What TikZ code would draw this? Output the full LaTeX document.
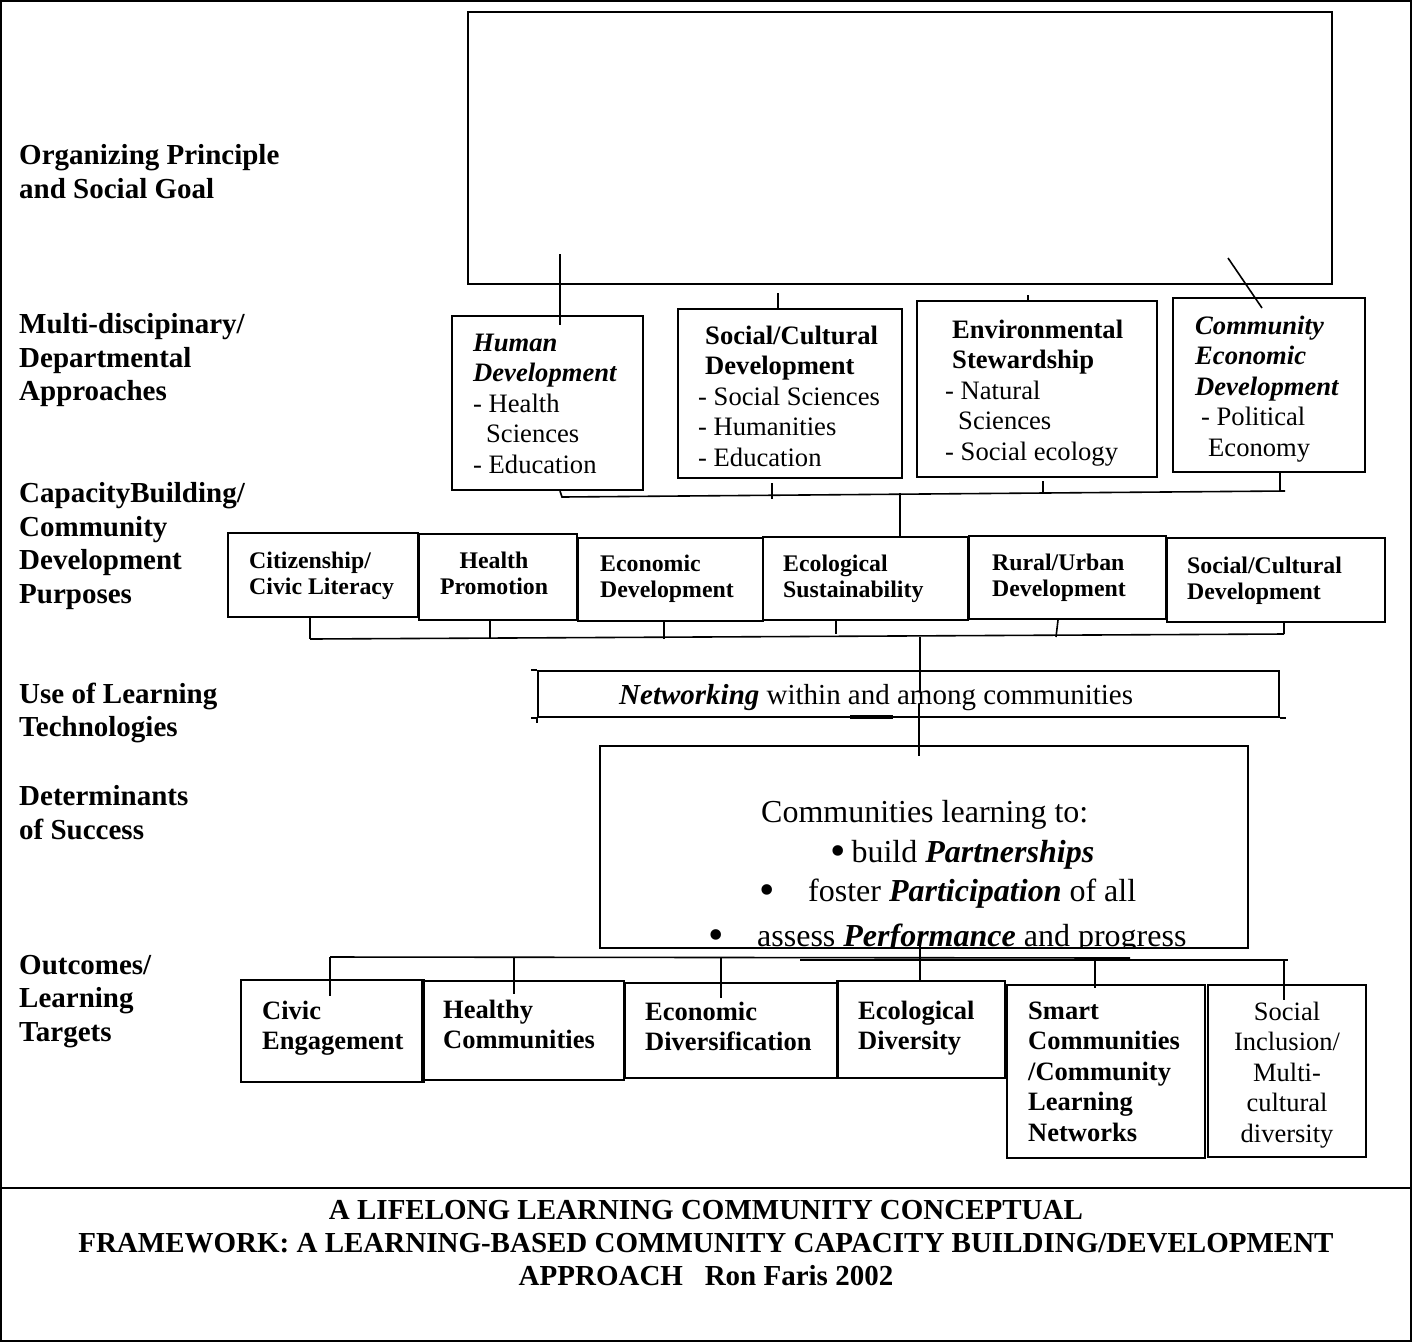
\documentclass[tikz,border=0pt]{standalone}
\usepackage{fontspec}
\setmainfont{Liberation Serif}
\usetikzlibrary{fit}
\newcommand\fsz[2]{\fontsize{#1}{#2}\selectfont}
\newcommand\bigbul{\raisebox{-3pt}{\fontsize{44}{44}\selectfont\textbullet}}
\begin{document}
\begin{tikzpicture}[x=1pt,y=-1pt,
 bx/.style={draw, line width=1.8pt, inner sep=0pt},
 con/.style={line width=1.6pt},
 lbl/.style={anchor=north west, align=left, inner sep=0pt, font=\fsz{29}{33.5}\bfseries},
 ta/.style={anchor=north west, align=left, inner sep=0pt, font=\fsz{26.6}{30.6}},
 tb/.style={anchor=north west, align=left, inner sep=0pt, font=\fsz{23.8}{26.5}\bfseries},
 tc/.style={anchor=north west, align=left, inner sep=0pt, font=\fsz{26.5}{30.5}\bfseries},
 dt/.style={anchor=base west, inner sep=0pt, font=\fsz{32}{39.5}},
]
\useasboundingbox (0,0) rectangle (1412,1342);
% frame
\draw[line width=2pt] (1,1) rectangle (1411,1341);
\draw[line width=2.4pt] (0,1188) -- (1412,1188);

% left labels
\node[lbl] (l1) at (19,144.6) {Organizing Principle\\and Social Goal};
\node[lbl] (l2) at (19,313.6) {Multi-discipinary/\\Departmental\\Approaches};
\node[lbl] (l3) at (19,482.6) {CapacityBuilding/\\Community\\Development\\Purposes};
\node[lbl] (l4) at (19,682.6) {Use of Learning\\Technologies};
\node[lbl] (l5) at (19,785.6) {Determinants\\of Success};
\node[lbl] (l6) at (19,954.6) {Outcomes/\\Learning\\Targets};

% top box
\node[bx, fit={(468,12)(1332,284)}] (goal) {};

% row 2
\node[bx, fit={(452,316)(643,490)}] (hd) {};
\node[bx, fit={(678,309)(902,478)}] (sc) {};
\node[bx, fit={(917,301)(1157,477)}] (es) {};
\node[bx, fit={(1173,298)(1365,472)}] (ce) {};
\node[ta] (hdt) at (473,333.4) {\textbf{\textit{Human}}\\\textbf{\textit{Development}}\\- Health\\\hspace*{13pt}Sciences\\- Education};
\node[ta] (sct) at (698,325.4) {\hspace*{7pt}\textbf{Social/Cultural}\\\hspace*{7pt}\textbf{Development}\\- Social Sciences\\- Humanities\\- Education};
\node[ta] (est) at (945,319.4) {\hspace*{7pt}\textbf{Environmental}\\\hspace*{7pt}\textbf{Stewardship}\\- Natural\\\hspace*{13pt}Sciences\\- Social ecology};
\node[ta] (cet) at (1195,315.4) {\textbf{\textit{Community}}\\\textbf{\textit{Economic}}\\\textbf{\textit{Development}}\\\hspace*{6pt}- Political\\\hspace*{13pt}Economy};

% row 3
\node[bx, fit={(228,533)(418,617)}] (p1) {};
\node[bx, fit={(419,534)(577,620)}] (p2) {};
\node[bx, fit={(578,538)(763,621)}] (p3) {};
\node[bx, fit={(763,537)(968,620)}] (p4) {};
\node[bx, fit={(969,536)(1166,619)}] (p5) {};
\node[bx, fit={(1167,538)(1385,622)}] (p6) {};
\node[tb] (p1t) at (249,551.4) {Citizenship/\\Civic Literacy};
\node[tb, anchor=north, align=center] (p2t) at (494,551.4) {Health\\Promotion};
\node[tb] (p3t) at (600,554.4) {Economic\\Development};
\node[tb] (p4t) at (783,554.4) {Ecological\\Sustainability};
\node[tb] (p5t) at (992,553.4) {Rural/Urban\\Development};
\node[tb] (p6t) at (1187,556.4) {Social/Cultural\\Development};

% networking
\node[bx, fit={(538,671)(1279,717)}] (net) {};
\node[anchor=base west, inner sep=0pt, font=\fsz{29}{33}] (nett) at (619,704) {\textbf{\textit{Networking}} within and among communities};

% determinants
\node[bx, fit={(600,746)(1248,948)}] (det) {};
\begin{scope}
\clip (det.north west) rectangle (det.south east);
\node[dt] (d1) at (761,822.5) {Communities learning to:};
\node[dt] (d2) at (830.3,862) {\bigbul\hspace{5.6pt}build \textbf{\textit{Partnerships}}};
\node[dt] (d3) at (759.3,901.5) {\bigbul\hspace{33.3pt}foster \textbf{\textit{Participation}} of all};
\node[dt] (d4) at (708.3,946) {\bigbul\hspace{33.3pt}assess \textbf{\textit{Performance}} and progress};
\end{scope}

% row 4
\node[bx, fit={(241,980)(424,1082)}] (o1) {};
\node[bx, fit={(422,981)(624,1080)}] (o2) {};
\node[bx, fit={(625,983)(838,1078)}] (o3) {};
\node[bx, fit={(837,981)(1005,1078)}] (o4) {};
\node[bx, fit={(1007,985)(1205,1158)}] (o5) {};
\node[bx, fit={(1208,985)(1366,1157)}] (o6) {};
\node[tc] (o1t) at (262,1000.5) {Civic\\Engagement};
\node[tc] (o2t) at (443,999.5) {Healthy\\Communities};
\node[tc] (o3t) at (645,1001.5) {Economic\\Diversification};
\node[tc] (o4t) at (858,1000.5) {Ecological\\Diversity};
\node[tc] (o5t) at (1028,1001.5) {Smart\\Communities\\/Community\\Learning\\Networks};
\node[tc, anchor=north, align=center, font=\fsz{26.5}{30.5}\mdseries] (o6t) at (1287,1001.5) {Social\\Inclusion/\\Multi-\\cultural\\diversity};

% caption
\node[anchor=north, align=center, inner sep=0pt, font=\fsz{29}{33}\bfseries] (cap) at (706,1199.6) {A LIFELONG LEARNING COMMUNITY CONCEPTUAL\\FRAMEWORK: A LEARNING-BASED COMMUNITY CAPACITY BUILDING/DEVELOPMENT\\APPROACH\ \ \ Ron Faris 2002};

% connector coordinates
\path (560,254) coordinate (g1) (560,325) coordinate (h1)
      (778,293) coordinate (g2) (1028,295) coordinate (g3)
      (1228,258) coordinate (g4) (1262,308) coordinate (c4)
      (560,491) coordinate (b2a) (562,497) coordinate (b2b) (1285,491) coordinate (b2c)
      (772,483) coordinate (t2a) (772,499) coordinate (t2b)
      (1043,481) coordinate (t3a) (1043,494) coordinate (t3b)
      (1280,473) coordinate (t4a) (1280,492) coordinate (t4b)
      (900,493) coordinate (v2)
      (310,639) coordinate (b3a) (1284,634) coordinate (b3b)
      (310,618) coordinate (u1) (490,620) coordinate (u2) (664,621) coordinate (u3)
      (836,620) coordinate (u4) (1058,620) coordinate (u5a) (1056,637) coordinate (u5b) (1284,622) coordinate (u6)
      (920,637) coordinate (v3a) (920,692) coordinate (v3b) (919,704) coordinate (v3c) (919,756) coordinate (v3d)
      (850,717) coordinate (k1) (893,717) coordinate (k2)
      (330,957) coordinate (b4a) (1130,958) coordinate (b4b) (800,960) coordinate (b4c) (1288,960) coordinate (b4d)
      (330,996) coordinate (w1) (514,994) coordinate (w2) (721,998) coordinate (w3)
      (920,940) coordinate (w4a) (920,980) coordinate (w4b) (1095,988) coordinate (w5) (1284,1000) coordinate (w6);

% row 1 -> row 2
\draw[con] (g1) -- (h1);
\draw[con] (g2) -- (g2 |- sc.north);
\draw[con] (g3) -- (g3 |- es.north);
\draw[con] (g4) -- (c4);
% row 2 bus
\draw[con] (b2a) -- (b2b) -- (b2c);
\draw[con] (t2a) -- (t2b);
\draw[con] (t3a) -- (t3b);
\draw[con] (t4a) -- (t4b);
\draw[con] (v2) -- (v2 |- p4.north);
% row 3 bus
\draw[con] (b3a) -- (b3b);
\draw[con] (u1) -- (u1 |- b3a);
\draw[con] (u2) -- (u2 |- b3a);
\draw[con] (u3) -- (u3 |- b3a);
\draw[con] (u4) -- (u4 |- b3b);
\draw[con] (u5a) -- (u5b);
\draw[con] (u6) -- (u6 |- b3b);
% networking
\draw[con] (v3a) -- (v3b);
\draw[con] (v3c) -- (v3d);
\draw[con] ([xshift=-6pt]net.north west) -- (net.north west);
\draw[con] ([xshift=-6pt]net.south west) -- (net.south west);
\draw[con] ([xshift=6pt]net.south east) -- (net.south east);
\draw[con] ([yshift=-5pt]net.south west) -- (net.south west);
\draw[line width=3.5pt] (k1) -- (k2);
% row 4 bus
\draw[con] (b4a) -- (b4b);
\draw[con] (b4c) -- (b4d);
\draw[con] (b4a) -- (w1);
\draw[con] (w2 |- b4a) -- (w2);
\draw[con] (w3 |- b4a) -- (w3);
\draw[con] (w4a) -- (w4b);
\draw[con] (w5 |- b4d) -- (w5);
\draw[con] (w6 |- b4d) -- (w6);
\end{tikzpicture}
\end{document}
